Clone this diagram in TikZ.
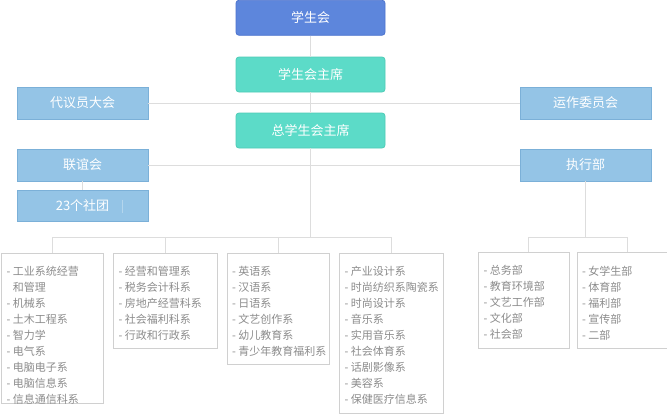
\documentclass[tikz,border=0pt]{standalone}
\usepackage{fontspec}
\setmainfont{Noto Sans CJK SC}
\usetikzlibrary{calc}
\definecolor{bluefill}{HTML}{5D86DC}
\definecolor{blueborder}{HTML}{4D74CE}
\definecolor{greenfill}{HTML}{5CDBC8}
\definecolor{greenborder}{HTML}{4ECBB6}
\definecolor{lbfill}{HTML}{94C4E6}
\definecolor{lbborder}{HTML}{7BB0D8}
\definecolor{linegray}{HTML}{DDDDDD}
\definecolor{boxgray}{HTML}{D0D0D0}
\definecolor{textgray}{HTML}{8C8C8C}
\begin{document}
\begin{tikzpicture}[x=1pt,y=-1pt,
  conn/.style={draw=linegray,line width=1pt},
  topbox/.style={rectangle,rounded corners=3pt,draw=blueborder,fill=bluefill,text=white,
    minimum width=149pt,minimum height=35pt,inner sep=0pt,line width=0.8pt,font=\fontsize{13}{15}\selectfont},
  greenbox/.style={topbox,draw=greenborder,fill=greenfill},
  lbbox/.style={rectangle,draw=lbborder,fill=lbfill,text=white,minimum width=131pt,minimum height=32pt,
    inner sep=0pt,line width=0.8pt,font=\fontsize{13}{15}\selectfont},
  listbox/.style={rectangle,draw=boxgray,fill=white,line width=0.8pt,inner sep=0pt,anchor=north west},
  listtext/.style={anchor=north west,align=left,inner sep=0pt,text=textgray,font=\fontsize{11}{16}\selectfont}
]
\useasboundingbox[fill=white] (0,0) rectangle (667,418);

% top column
\node[topbox] (xsh) at (310.5,17.75) {学生会};
\node[greenbox] (zx) at (310.5,74.5) {学生会主席};
\node[greenbox] (zzx) at (310.5,130.5) {总学生会主席};

% side boxes
\node[lbbox] (dy) at (82.5,103) {代议员大会};
\node[lbbox] (yz) at (585.5,103) {运作委员会};
\node[lbbox] (lyh) at (82.5,165) {联谊会};
\node[lbbox] (zxb) at (585.5,165) {执行部};
\node[lbbox,minimum height=31pt] (st) at (82.5,205.5) {23个社团};
\draw[draw=lbfill!70!white,line width=0.8pt] ($(st.north west)+(106,10)$) -- ($(st.north west)+(106,23)$);

% list boxes
\node[listbox,minimum width=102pt,minimum height=150.5pt] (b1) at (1,252.5) {};
\node[listbox,minimum width=104pt,minimum height=95.5pt] (b2) at (113,252.5) {};
\node[listbox,minimum width=102.5pt,minimum height=111.5pt] (b3) at (226.5,252.5) {};
\node[listbox,minimum width=104pt,minimum height=160pt] (b4) at (339,252.5) {};
\node[listbox,minimum width=90.5pt,minimum height=96pt] (b5) at (478,252) {};
\node[listbox,minimum width=90pt,minimum height=96pt] (b6) at (576.5,252) {};

\node[listtext] (t1) at ($(b1.north west)+(5.5,13.5)$) {- 工业系统经营\\\phantom{- }和管理\\- 机械系\\- 土木工程系\\- 智力学\\- 电气系\\- 电脑电子系\\- 电脑信息系\\- 信息通信科系};
\node[listtext] (t2) at ($(b2.north west)+(5.5,13.5)$) {- 经营和管理系\\- 税务会计科系\\- 房地产经营科系\\- 社会福利科系\\- 行政和行政系};
\node[listtext] (t3) at ($(b3.north west)+(5.5,13.5)$) {- 英语系\\- 汉语系\\- 日语系\\- 文艺创作系\\- 幼儿教育系\\- 青少年教育福利系};
\node[listtext] (t4) at ($(b4.north west)+(5.5,13.5)$) {- 产业设计系\\- 时尚纺织系陶瓷系\\- 时尚设计系\\- 音乐系\\- 实用音乐系\\- 社会体育系\\- 话剧影像系\\- 美容系\\- 保健医疗信息系};
\node[listtext] (t5) at ($(b5.north west)+(5.5,13.5)$) {- 总务部\\- 教育环境部\\- 文艺工作部\\- 文化部\\- 社会部};
\node[listtext] (t6) at ($(b6.north west)+(5.5,13.5)$) {- 女学生部\\- 体育部\\- 福利部\\- 宣传部\\- 二部};

% connectors
\draw[conn] (xsh.south) -- (zx.north);
\draw[conn] (zx.south) -- (zzx.north);
\draw[conn] (dy.east) -- (yz.west);
\draw[conn] (lyh.east) -- (zxb.west);
\draw[conn] (lyh.south) -- (st.north);
\coordinate (br) at (310.5,237.5);
\draw[conn] (zzx.south) -- (br);
\draw[conn] (b1.north) |- (br) -| (b4.north);
\draw[conn] (b2.north) -- (b2.north |- br);
\draw[conn] (b3.north) -- (b3.north |- br);
\coordinate (rb) at (585.5,237.5);
\draw[conn] (zxb.south) -- (rb);
\draw[conn] ([xshift=5pt]b5.north) |- (rb) -| ([xshift=6pt]b6.north);
\end{tikzpicture}
\end{document}
